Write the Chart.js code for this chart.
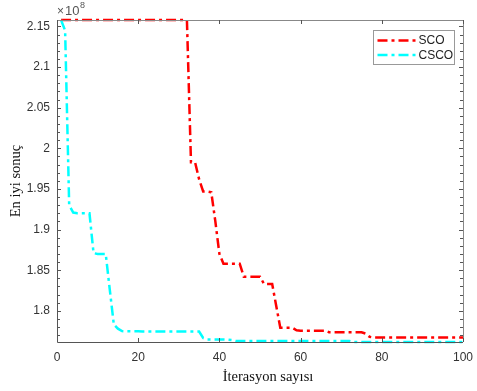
<!DOCTYPE html>
<html>
<head>
<meta charset="utf-8">
<script src="https://cdn.jsdelivr.net/npm/chart.js@4/dist/chart.umd.min.js"></script>
<style>
  html, body { margin: 0; padding: 0; background: #fff; }
  #wrap { width: 477px; height: 391px; }
</style>
</head>
<body>
<div id="wrap"><canvas id="convChart" width="477" height="391"></canvas></div>
<script>
// best value per iteration (x 1e8)
var iterations = [];
for (var i = 1; i <= 100; i++) iterations.push(i);

var sco = [
  2.158, 2.158, 2.158, 2.158, 2.158, 2.158, 2.158, 2.158, 2.158, 2.158,
  2.158, 2.158, 2.158, 2.158, 2.158, 2.158, 2.158, 2.158, 2.158, 2.158,
  2.158, 2.158, 2.158, 2.158, 2.158, 2.158, 2.158, 2.158, 2.158, 2.158,
  2.158, 2.158, 1.983, 1.983, 1.962, 1.947, 1.947, 1.946, 1.910, 1.870,
  1.858, 1.858, 1.858, 1.858, 1.858, 1.842, 1.842, 1.842, 1.842, 1.842,
  1.833, 1.833, 1.833, 1.806, 1.779, 1.779, 1.779, 1.779, 1.776, 1.7756,
  1.7756, 1.7756, 1.7756, 1.7756, 1.7756, 1.7756, 1.7736, 1.7736, 1.7736, 1.7736,
  1.7736, 1.7736, 1.7736, 1.7736, 1.7736, 1.772, 1.768, 1.767, 1.767, 1.767,
  1.767, 1.767, 1.767, 1.767, 1.767, 1.767, 1.767, 1.767, 1.767, 1.767,
  1.767, 1.767, 1.767, 1.767, 1.767, 1.767, 1.767, 1.767, 1.767, 1.767
];

var csco = [
  2.158, 2.145, 1.930, 1.921, 1.920, 1.920, 1.920, 1.920, 1.871, 1.870,
  1.870, 1.870, 1.826, 1.783, 1.778, 1.775, 1.7748, 1.7748, 1.7747, 1.7747,
  1.7746, 1.7746, 1.7746, 1.7746, 1.7746, 1.7746, 1.7746, 1.7746, 1.7746, 1.7746,
  1.7745, 1.7745, 1.7745, 1.7745, 1.7745, 1.7665, 1.7648, 1.7647, 1.7647, 1.7646,
  1.7646, 1.7645, 1.7640, 1.7628, 1.7628, 1.7628, 1.7628, 1.7628, 1.7628, 1.7628,
  1.7628, 1.7628, 1.7628, 1.7628, 1.7628, 1.7628, 1.7628, 1.7628, 1.7628, 1.7628,
  1.7628, 1.7628, 1.7628, 1.7628, 1.7628, 1.7628, 1.7628, 1.7628, 1.7628, 1.7628,
  1.7628, 1.7628, 1.7616, 1.7616, 1.7616, 1.7616, 1.7616, 1.7616, 1.7616, 1.7616,
  1.7616, 1.7616, 1.7616, 1.7616, 1.7616, 1.7616, 1.7616, 1.7616, 1.7616, 1.7616,
  1.7616, 1.7616, 1.7616, 1.7616, 1.7616, 1.7616, 1.7616, 1.7616, 1.7616, 1.7616
];

var xTicks = [0, 20, 40, 60, 80, 100];
var yTicks = [1.8, 1.85, 1.9, 1.95, 2, 2.05, 2.1, 2.15];
var yMinor = 0.01;
var seriesNames = ['SCO', 'CSCO'];

var SANS = '"Liberation Sans", Arial, sans-serif';
var SERIF = '"Liberation Serif", "Times New Roman", serif';
var DASH = [10, 4, 3, 4];

// box, inward ticks, exponent, titles and legend in matlab style
var axesDecor = {
  id: 'axesDecor',
  afterDraw: function (chart) {
    var c = chart.ctx, a = chart.chartArea;
    var xs = chart.scales.x, ys = chart.scales.y;
    c.save();
    c.lineWidth = 1;
    c.strokeStyle = '#555';
    c.beginPath();
    c.moveTo(a.left + 0.5, a.top);
    c.lineTo(a.left + 0.5, a.bottom + 0.5);
    c.lineTo(a.right, a.bottom + 0.5);
    c.stroke();
    c.strokeStyle = '#888';
    c.beginPath();
    c.moveTo(a.left, a.top + 0.5);
    c.lineTo(a.right + 0.5, a.top + 0.5);
    c.lineTo(a.right + 0.5, a.bottom);
    c.stroke();

    c.beginPath();
    xTicks.forEach(function (v) {
      var px = Math.round(xs.getPixelForValue(v)) + 0.5;
      c.moveTo(px, a.bottom); c.lineTo(px, a.bottom - 4);
      c.moveTo(px, a.top); c.lineTo(px, a.top + 4);
    });
    for (var v = 1.77; v < ys.max; v += yMinor) {
      var py = Math.round(ys.getPixelForValue(v)) + 0.5;
      var major = yTicks.some(function (t) { return Math.abs(t - v) < 1e-6; });
      var len = major ? 4 : 3;
      c.moveTo(a.left, py); c.lineTo(a.left + len, py);
      c.moveTo(a.right, py); c.lineTo(a.right - len, py);
    }
    c.strokeStyle = '#555';
    c.stroke();

    // exponent
    c.fillStyle = '#555';
    c.textBaseline = 'alphabetic';
    c.textAlign = 'left';
    c.font = '12px ' + SANS;
    c.fillText('\u00d7', a.left, 15);
    c.font = '13px ' + SANS;
    c.fillText('10', a.left + 8, 15);
    c.font = '9px ' + SANS;
    c.fillText('8', a.left + 23, 8);

    // axis titles
    c.fillStyle = '#111';
    c.font = '14.5px ' + SERIF;
    c.textAlign = 'center';
    c.textBaseline = 'middle';
    c.fillText('\u0130terasyon say\u0131s\u0131', 268, 377);
    c.save();
    c.translate(16, (a.top + a.bottom) / 2);
    c.rotate(-Math.PI / 2);
    c.fillText('En iyi sonu\u00e7', 0, 0);
    c.restore();

    // legend
    var lx = 373.5, ly = 30.5, lw = 81, lh = 34;
    c.fillStyle = '#fff';
    c.fillRect(lx, ly, lw, lh);
    c.strokeStyle = '#999';
    c.strokeRect(lx, ly, lw, lh);
    chart.data.datasets.forEach(function (ds, k) {
      var yy = ly + 10 + k * 14.5;
      c.strokeStyle = ds.borderColor;
      c.lineWidth = ds.borderWidth;
      c.setLineDash(DASH);
      c.beginPath();
      c.moveTo(lx + 4, yy); c.lineTo(lx + 42, yy);
      c.stroke();
      c.setLineDash([]);
      c.fillStyle = '#222';
      c.font = '12px ' + SANS;
      c.textAlign = 'left';
      c.fillText(ds.label, lx + 45, yy + 0.5);
    });
    c.restore();
  }
};

new Chart(document.getElementById('convChart').getContext('2d'), {
  type: 'line',
  data: {
    labels: iterations,
    datasets: [
      { label: seriesNames[0], data: sco, borderColor: '#ff0000', borderWidth: 2.5,
        borderDash: DASH, pointRadius: 0, tension: 0, fill: false, clip: 4, order: 2 },
      { label: seriesNames[1], data: csco, borderColor: '#00ffff', borderWidth: 2.5,
        borderDash: DASH, pointRadius: 0, tension: 0, fill: false, clip: 4, order: 1 }
    ]
  },
  options: {
    responsive: false,
    animation: false,
    layout: { padding: { left: 0, top: 20, right: 14, bottom: 0 } },
    plugins: { legend: { display: false }, tooltip: { enabled: false } },
    scales: {
      x: {
        type: 'linear', min: 0, max: 100,
        grid: { display: false, drawTicks: false }, border: { display: false },
        afterBuildTicks: function (s) { s.ticks = xTicks.map(function (v) { return { value: v }; }); },
        afterFit: function (s) { s.height = 49; s.paddingLeft = 0; s.paddingRight = 0; },
        ticks: { padding: 8, color: '#333', font: { family: SANS, size: 12 }, maxRotation: 0 }
      },
      y: {
        type: 'linear', min: 1.7616, max: 2.158,
        grid: { display: false, drawTicks: false }, border: { display: false },
        afterBuildTicks: function (s) { s.ticks = yTicks.map(function (v) { return { value: v }; }); },
        afterFit: function (s) { s.width = 57; s.paddingTop = 0; s.paddingBottom = 0; },
        ticks: { padding: 7, color: '#333', font: { family: SANS, size: 12 },
                 callback: function (v) { return String(+v.toFixed(2)); } }
      }
    }
  },
  plugins: [axesDecor]
});
</script>
</body>
</html>
